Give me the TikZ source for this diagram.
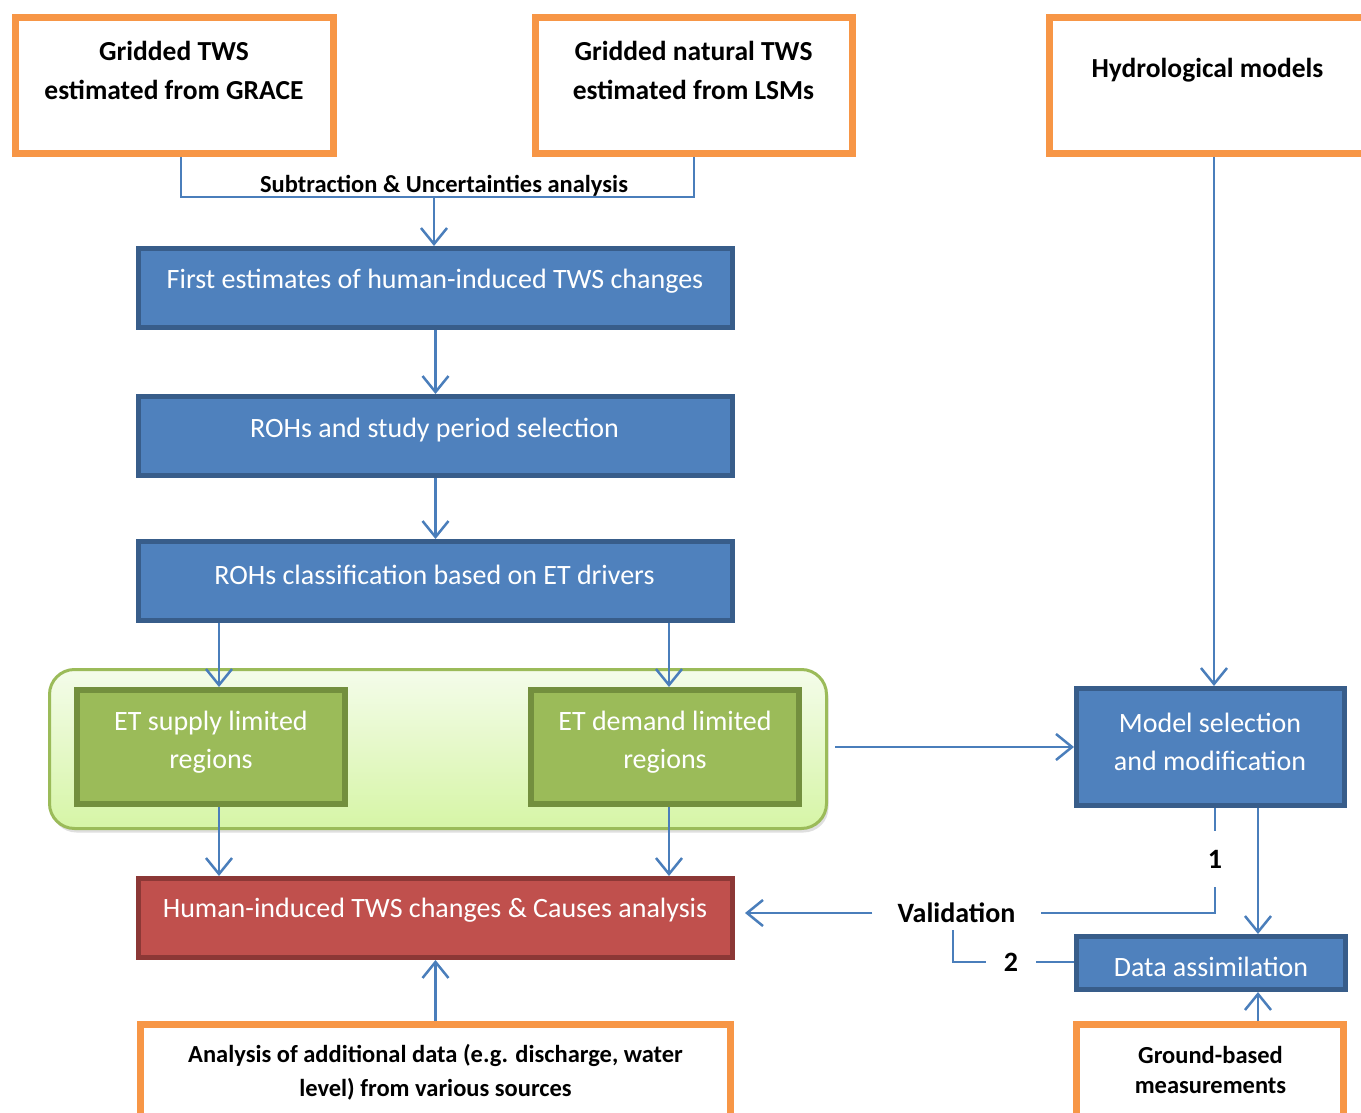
\documentclass[tikz,border=0pt]{standalone}
\usepackage{fontspec}
\setmainfont{Carlito}
\usetikzlibrary{arrows.meta,shadows}

\definecolor{orangeb}{HTML}{F79646}
\definecolor{bluef}{HTML}{4F81BD}
\definecolor{blued}{HTML}{385D8A}
\definecolor{greenf}{HTML}{9BBB59}
\definecolor{greend}{HTML}{738F3E}
\definecolor{redf}{HTML}{C0504D}
\definecolor{redd}{HTML}{8C3836}
\definecolor{linkc}{HTML}{4A7EBB}
\definecolor{grptop}{HTML}{F4FCEA}
\definecolor{grpbot}{HTML}{D6F5A6}

\tikzset{
  inbox/.style={draw=orangeb, line width=7pt, fill=white, inner sep=0pt},
  stepbox/.style={draw=blued, line width=5pt, fill=bluef, inner sep=0pt,
    minimum width=594pt, minimum height=79pt},
  regbox/.style={draw=greend, line width=6pt, fill=greenf, inner sep=0pt,
    minimum width=268pt, minimum height=114pt},
  resbox/.style={draw=redd, line width=5pt, fill=redf, inner sep=0pt,
    minimum width=594pt, minimum height=79pt},
  group/.style={draw=greenf, line width=3pt, rounded corners=25pt,
    top color=grptop, bottom color=grpbot, inner sep=0pt,
    minimum width=777pt, minimum height=159pt,
    drop shadow={shadow xshift=2pt, shadow yshift=-4pt, opacity=0.25}},
  hdrtxt/.style={font=\bfseries\fontsize{27.5pt}{39pt}\selectfont, align=center},
  boxtxt/.style={text=white, font=\fontsize{28pt}{38pt}\selectfont, align=center},
  subtxt/.style={font=\bfseries\fontsize{24.5pt}{28pt}\selectfont, inner sep=0pt},
  srctxt/.style={font=\bfseries\fontsize{24.5pt}{34pt}\selectfont, align=center},
  numtxt/.style={font=\bfseries\fontsize{28pt}{32pt}\selectfont},
  link/.style={draw=linkc, line width=2.5pt},
  flow/.style={link, -{Straight Barb[length=16pt, width=26pt]}}
}

\begin{document}
\begin{tikzpicture}[x=1pt, y=-1pt]
\useasboundingbox (0,0) rectangle (1361,1113);
\clip (0,0) rectangle (1361,1113);
\fill[white] (0,0) rectangle (1361,1113);

% input data
\node[inbox, minimum width=318pt, minimum height=136pt] (gr) at (174.5,85.5) {};
\node[hdrtxt] (gr-t) at (174,70) {Gridded TWS\\estimated from GRACE};
\node[inbox, minimum width=317pt, minimum height=136pt] (lsm) at (694,85.5) {};
\node[hdrtxt] (lsm-t) at (693.5,70) {Gridded natural TWS\\estimated from LSMs};
\node[inbox, minimum width=318pt, minimum height=136pt] (hyd) at (1208.5,85.5) {};
\node[hdrtxt] (hyd-t) at (1207.5,70) {Hydrological models};

% processing chain
\node[stepbox] (fe) at (435.5,288) {};
\node[boxtxt] (fe-t) at (435,281) {First estimates of human-induced TWS changes};
\node[stepbox] (rs) at (435.5,436) {};
\node[boxtxt] (rs-t) at (434.5,430) {ROHs and study period selection};
\node[stepbox] (rc) at (435.5,581) {};
\node[boxtxt] (rc-t) at (434.5,575) {ROHs classification based on ET drivers};

\node[group] (grp) at (438,749) {};
\node[regbox] (sup) at (211,747) {};
\node[boxtxt] (sup-t) at (211,742) {ET supply limited\\regions};
\node[regbox] (dem) at (665,747) {};
\node[boxtxt] (dem-t) at (665,742) {ET demand limited\\regions};

\node[resbox] (hc) at (435.5,918) {};
\node[boxtxt] (hc-t) at (435,910) {Human-induced TWS changes \& Causes analysis};
\node[inbox, minimum width=590pt, minimum height=110pt] (add) at (435.5,1079.5) {};
\node[srctxt] (add-t) at (435.5,1072) {Analysis of additional data (e.g. discharge, water\\level) from various sources};

% model side
\node[stepbox, minimum width=268pt, minimum height=117pt] (mod) at (1210.5,747) {};
\node[boxtxt] (mod-t) at (1210,742) {Model selection\\and modification};
\node[stepbox, minimum width=269pt, minimum height=53pt] (da) at (1211,963) {};
\node[boxtxt] (da-t) at (1211,967) {Data assimilation};
\node[inbox, minimum width=267pt, minimum height=110pt] (gb) at (1210,1079.5) {};
\node[srctxt, font=\bfseries\fontsize{24.5pt}{30pt}\selectfont] (gb-t) at (1210.5,1070) {Ground-based\\measurements};

% connectors
\coordinate (sj) at (434,197);
\draw[link] ([xshift=6.5pt]gr.south) |- (sj) -| (lsm.south);
\node[subtxt, anchor=base] (sub) at (444,193) {Subtraction \& Uncertainties analysis};
\draw[flow] (sj) -- (sj |- fe.north);
\draw[flow] (fe) -- (rs);
\draw[flow] (rs) -- (rc);
\coordinate (supx) at ([xshift=8pt]sup.north);
\coordinate (demx) at ([xshift=4pt]dem.north);
\draw[flow] (supx |- rc.south) -- (supx);
\draw[flow] (demx |- rc.south) -- (demx);
\draw[flow] (supx |- sup.south) -- (supx |- hc.north);
\draw[flow] (demx |- dem.south) -- (demx |- hc.north);
\draw[flow] (add) -- (hc);

\coordinate (hydx) at ([xshift=3.5pt]mod.north);
\draw[flow] (hydx |- hyd.south) -- (hydx);
\coordinate (grpx) at ([xshift=7pt]grp.east);
\draw[flow] (grpx |- mod.west) -- (mod.west);
\coordinate (dax) at ([xshift=47pt]da.north);
\draw[flow] (dax |- mod.south) -- (dax);
\draw[flow] (dax |- gb.north) -- (dax |- da.south);

% validation
\node[numtxt, inner xsep=4pt, inner ysep=19pt] (one) at (1215,859) {1};
\node[numtxt, inner xsep=25pt, inner ysep=7pt] (valid) at (956.5,913) {Validation};
\node[numtxt, inner xsep=18pt, inner ysep=4pt] (two) at (1011,962) {2};
\draw[link] (one.north |- mod.south) -- (one.north);
\draw[link] (one.south) |- (valid.east);
\coordinate (hcx) at ([xshift=10pt]hc.east);
\draw[flow] (valid.west) -- (valid.west -| hcx);
\draw[link] ([xshift=-3.5pt]valid.south) |- (two.west);
\draw[link] (two.east) -- (two.east -| da.west);
\end{tikzpicture}
\end{document}
